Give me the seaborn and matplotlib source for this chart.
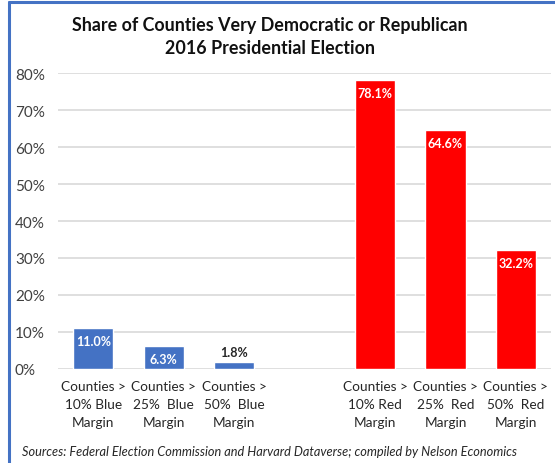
import matplotlib
matplotlib.use("Agg")
import matplotlib.pyplot as plt
from matplotlib.lines import Line2D
import seaborn as sns
import pandas as pd
import numpy as np

# Chart data
categories = ["Counties >\n10% Blue\nMargin", "Counties >\n25%  Blue\nMargin",
              "Counties >\n50%  Blue\nMargin", " ",
              "Counties >\n10% Red\nMargin", "Counties >\n25%  Red\nMargin",
              "Counties >\n50%  Red\nMargin"]
shares = [11.0, 6.3, 1.8, np.nan, 78.1, 64.6, 32.2]
party = ["Blue", "Blue", "Blue", "Blue", "Red", "Red", "Red"]
y_ticks = [0, 10, 20, 30, 40, 50, 60, 70, 80]

colors = {"Blue": "#4472C4", "Red": "#FF0000"}

sns.set_theme(style="white")
plt.rcParams["font.family"] = ["Lato", "DejaVu Sans"]

df = pd.DataFrame({"category": categories, "share": shares, "party": party})

fig = plt.figure(figsize=(5.55, 4.64), dpi=100)
ax = fig.add_axes([0.1045, 0.2026, 0.8885, 0.6379])

sns.barplot(data=df, x="category", y="share", hue="party", palette=colors,
            order=categories, dodge=False, width=0.57, legend=False,
            saturation=1, ax=ax, zorder=3)

ax.set_ylim(0, 80)
ax.set_xlim(-0.5, 6.5)
ax.set_yticks(y_ticks)
ax.set_yticklabels([f"{t}%" for t in y_ticks], fontsize=11, color="#404040")
ax.yaxis.grid(True, color="#D9D9D9", linewidth=1.2, zorder=0)
ax.set_axisbelow(True)
for s in ax.spines.values():
    s.set_visible(False)
ax.tick_params(axis="y", length=0, pad=31)
ax.tick_params(axis="x", length=0, pad=8)
for lbl in ax.get_yticklabels():
    lbl.set_horizontalalignment("left")
ax.set_xticks(range(len(categories)))
ax.set_xticklabels(categories, fontsize=9.8, color="#262626", linespacing=1.6)
ax.set_xlabel("")
ax.set_ylabel("")

# Value labels
for i, v in enumerate(shares):
    if np.isnan(v):
        continue
    if v < 4:
        ax.annotate(f"{v:.1f}%", (i, v), xytext=(0, 3), textcoords="offset points",
                    ha="center", va="bottom", fontsize=9, fontweight="bold",
                    color="#262626")
    else:
        ax.annotate(f"{v:.1f}%", (i, v), xytext=(0, -5), textcoords="offset points",
                    ha="center", va="top", fontsize=9, fontweight="bold",
                    color="white")

fig.text(0.487, 0.946, "Share of Counties Very Democratic or Republican",
         ha="center", va="center", fontsize=12.9, fontweight="bold", color="#111111")
fig.text(0.487, 0.895, "2016 Presidential Election",
         ha="center", va="center", fontsize=12.9, fontweight="bold", color="#111111")

fig.text(0.04, 0.026, "Sources: Federal Election Commission and Harvard Dataverse; compiled by Nelson Economics",
         ha="left", va="center", fontsize=9.2, style="italic", color="#262626")

# Frame lines
fig.add_artist(Line2D([0.017, 0.017], [0, 0.993], transform=fig.transFigure,
                      color="#4472C4", linewidth=2.2))
fig.add_artist(Line2D([0.017, 1.0], [0.993, 0.993], transform=fig.transFigure,
                      color="#4472C4", linewidth=2.2))

fig.savefig("out.png", dpi=100)
